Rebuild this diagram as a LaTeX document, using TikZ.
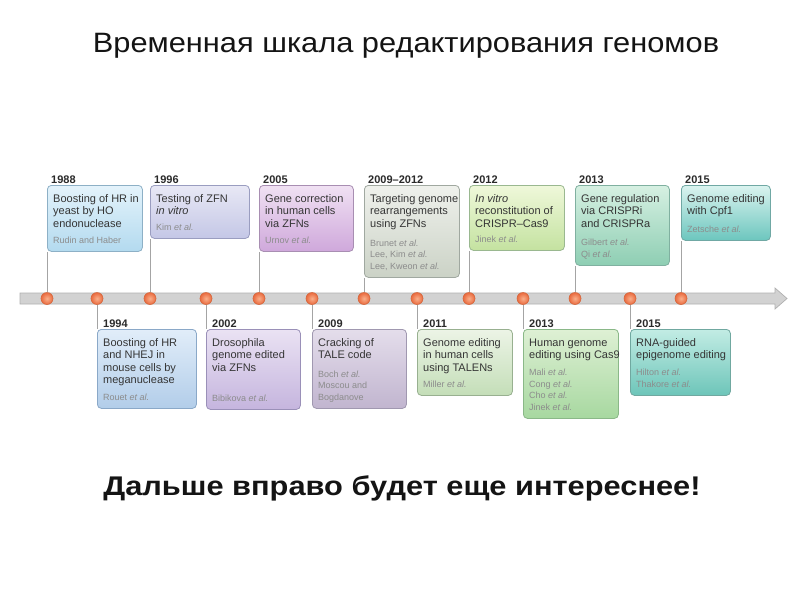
\documentclass[tikz,border=0pt]{standalone}
\usepackage{fontspec}
\setmainfont{Liberation Sans}
\definecolor{maintxt}{HTML}{353535}
\definecolor{authtxt}{HTML}{8C8C8C}
\definecolor{yeartxt}{HTML}{2A2A2A}
\definecolor{titletxt}{HTML}{141414}
\definecolor{linegray}{HTML}{A4A4A4}
\definecolor{barlight}{HTML}{F4F4F4}
\definecolor{bardark}{HTML}{D2D2D2}
\definecolor{barrim}{HTML}{B0B0B0}
\definecolor{dotin}{HTML}{F9B08C}
\definecolor{dotout}{HTML}{EA6A3E}
\definecolor{dotrim}{HTML}{D4683E}
% box colours: top / bottom / border
\newcommand\boxcolors[4]{%
  \definecolor{#1t}{HTML}{#2}\definecolor{#1b}{HTML}{#3}\definecolor{#1d}{HTML}{#4}}
\boxcolors{ca}{E4F3FB}{B3DAEF}{8DB0C6}
\boxcolors{cb}{E8E8F5}{C4C7E6}{9A9DC0}
\boxcolors{cc}{F0E1F3}{CFA8DB}{A88EB2}
\boxcolors{cd}{EFF1EC}{CBD2C6}{A0A8A0}
\boxcolors{ce}{EFF8DA}{C4E2A0}{9AB890}
\boxcolors{cf}{D6F0E2}{8ECEB3}{80B0A0}
\boxcolors{cg}{DAF3EF}{6CC6BE}{70A8A4}
\boxcolors{ch}{E1EDF9}{B2CDE9}{8AA8C8}
\boxcolors{ci}{EAE2F3}{C5B5DE}{9A90B8}
\boxcolors{cj}{E4DDEB}{C1B5CF}{A098B0}
\boxcolors{ck}{ECF4E6}{C4DEB8}{98B090}
\boxcolors{cl}{DEF0D4}{A7D8A0}{8AB888}
\boxcolors{cm}{C2ECE4}{6DC5B9}{70A8A0}
\newcommand\ea{\textit{et al.}}
\newcommand\topstrut{\rule{0pt}{17pt}}
\newcommand\botstrut{\rule[-8pt]{0pt}{8pt}}
\tikzset{
  evbox/.style={draw=#1d, top color=#1t, bottom color=#1b,
     rounded corners=4pt, anchor=north west, inner sep=0pt, line width=0.8pt},
  mtext/.style={anchor=north west, inner sep=0pt, align=left,
     font=\fontsize{11}{12.5}\selectfont, text=maintxt},
  atext/.style={anchor=south west, inner sep=0pt, align=left,
     font=\fontsize{9}{11.8}\selectfont, text=authtxt},
  yr/.style={anchor=base west, inner sep=0pt, font=\bfseries\fontsize{11}{12}\selectfont, text=yeartxt},
  dot/.style={circle, minimum size=12pt, inner sep=0pt, draw=dotrim, line width=0.6pt,
     inner color=dotin, outer color=dotout},
  conn/.style={draw=linegray, line width=0.9pt},
}
\begin{document}
\begin{tikzpicture}[x=1pt,y=-1pt]
\useasboundingbox (0,0) rectangle (800,600);
\fill[white] (0,0) rectangle (800,600);

% title and note
\node[anchor=base, inner sep=0pt, font=\fontsize{28}{34}\selectfont, text=titletxt, xscale=1.1] (title) at (406,52) {Временная шкала редактирования геномов};
\node[anchor=base, inner sep=0pt, font=\bfseries\fontsize{27}{32}\selectfont, text=titletxt, xscale=1.14] (note) at (402,495) {Дальше вправо будет еще интереснее!};

% timeline bar with arrow head
\shade[top color=bardark, middle color=barlight, bottom color=bardark, draw=barrim, line width=0.7pt]
  (20,293) -- (775,293) -- (775,288) -- (787,298.5) -- (775,309) -- (775,304) -- (20,304) -- cycle;

% dots
\foreach \n/\x in {d1/47,d2/97,d3/150,d4/206,d5/259,d6/312,d7/364,d8/417,d9/469,d10/523,d11/575,d12/630,d13/681}
  \node[dot] (\n) at (\x,298.5) {};

% ---------------- upper boxes ----------------
\node[evbox=ca, minimum width=95pt, minimum height=66pt] (b1988) at (47,185) {};
\node[yr] (y1988) at ([xshift=4pt,yshift=2pt]b1988.north west) {1988};
\node[mtext] (m1988) at ([xshift=6pt]b1988.north west) {\topstrut Boosting of HR in\\yeast by HO\\endonuclease};
\node[atext] (a1988) at ([xshift=6pt]b1988.south west) {Rudin and Haber\botstrut};

\node[evbox=cb, minimum width=99pt, minimum height=53pt] (b1996) at (150,185) {};
\node[yr] (y1996) at ([xshift=4pt,yshift=2pt]b1996.north west) {1996};
\node[mtext] (m1996) at ([xshift=6pt]b1996.north west) {\topstrut Testing of ZFN\\\textit{in vitro}};
\node[atext] (a1996) at ([xshift=6pt]b1996.south west) {Kim \ea\botstrut};

\node[evbox=cc, minimum width=94pt, minimum height=66pt] (b2005) at (259,185) {};
\node[yr] (y2005) at ([xshift=4pt,yshift=2pt]b2005.north west) {2005};
\node[mtext] (m2005) at ([xshift=6pt]b2005.north west) {\topstrut Gene correction\\in human cells\\via ZFNs};
\node[atext] (a2005) at ([xshift=6pt]b2005.south west) {Urnov \ea\botstrut};

\node[evbox=cd, minimum width=95pt, minimum height=92pt] (b2009u) at (364,185) {};
\node[yr] (y2009u) at ([xshift=4pt,yshift=2pt]b2009u.north west) {2009–2012};
\node[mtext] (m2009u) at ([xshift=6pt]b2009u.north west) {\topstrut Targeting genome\\rearrangements\\using ZFNs};
\node[atext] (a2009u) at ([xshift=6pt]b2009u.south west) {Brunet \ea\\Lee, Kim \ea\\Lee, Kweon \ea\botstrut};

\node[evbox=ce, minimum width=95pt, minimum height=65pt] (b2012) at (469,185) {};
\node[yr] (y2012) at ([xshift=4pt,yshift=2pt]b2012.north west) {2012};
\node[mtext] (m2012) at ([xshift=6pt]b2012.north west) {\topstrut\textit{In vitro}\\reconstitution of\\CRISPR–Cas9};
\node[atext] (a2012) at ([xshift=6pt]b2012.south west) {Jinek \ea\botstrut};

\node[evbox=cf, minimum width=94pt, minimum height=80pt] (b2013u) at (575,185) {};
\node[yr] (y2013u) at ([xshift=4pt,yshift=2pt]b2013u.north west) {2013};
\node[mtext] (m2013u) at ([xshift=6pt]b2013u.north west) {\topstrut Gene regulation\\via CRISPRi\\and CRISPRa};
\node[atext] (a2013u) at ([xshift=6pt]b2013u.south west) {Gilbert \ea\\Qi \ea\botstrut};

\node[evbox=cg, minimum width=89pt, minimum height=55pt] (b2015u) at (681,185) {};
\node[yr] (y2015u) at ([xshift=4pt,yshift=2pt]b2015u.north west) {2015};
\node[mtext] (m2015u) at ([xshift=6pt]b2015u.north west) {\topstrut Genome editing\\with Cpf1};
\node[atext] (a2015u) at ([xshift=6pt]b2015u.south west) {Zetsche \ea\botstrut};

% ---------------- lower boxes ----------------
\node[evbox=ch, minimum width=99pt, minimum height=79pt] (b1994) at (97,329) {};
\node[yr] (y1994) at ([xshift=6pt,yshift=2pt]b1994.north west) {1994};
\node[mtext] (m1994) at ([xshift=6pt]b1994.north west) {\topstrut Boosting of HR\\and NHEJ in\\mouse cells by\\meganuclease};
\node[atext] (a1994) at ([xshift=6pt]b1994.south west) {Rouet \ea\botstrut};

\node[evbox=ci, minimum width=94pt, minimum height=80pt] (b2002) at (206,329) {};
\node[yr] (y2002) at ([xshift=6pt,yshift=2pt]b2002.north west) {2002};
\node[mtext] (m2002) at ([xshift=6pt]b2002.north west) {\topstrut Drosophila\\genome edited\\via ZFNs};
\node[atext] (a2002) at ([xshift=6pt]b2002.south west) {Bibikova \ea\botstrut};

\node[evbox=cj, minimum width=94pt, minimum height=79pt] (b2009l) at (312,329) {};
\node[yr] (y2009l) at ([xshift=6pt,yshift=2pt]b2009l.north west) {2009};
\node[mtext] (m2009l) at ([xshift=6pt]b2009l.north west) {\topstrut Cracking of\\TALE code};
\node[atext] (a2009l) at ([xshift=6pt]b2009l.south west) {Boch \ea\\Moscou and\\Bogdanove\botstrut};

\node[evbox=ck, minimum width=95pt, minimum height=66pt] (b2011) at (417,329) {};
\node[yr] (y2011) at ([xshift=6pt,yshift=2pt]b2011.north west) {2011};
\node[mtext] (m2011) at ([xshift=6pt]b2011.north west) {\topstrut Genome editing\\in human cells\\using TALENs};
\node[atext] (a2011) at ([xshift=6pt]b2011.south west) {Miller \ea\botstrut};

\node[evbox=cl, minimum width=95pt, minimum height=89pt] (b2013l) at (523,329) {};
\node[yr] (y2013l) at ([xshift=6pt,yshift=2pt]b2013l.north west) {2013};
\node[mtext] (m2013l) at ([xshift=6pt]b2013l.north west) {\topstrut Human genome\\editing using Cas9};
\node[atext] (a2013l) at ([xshift=6pt]b2013l.south west) {Mali \ea\\Cong \ea\\Cho \ea\\Jinek \ea\botstrut};

\node[evbox=cm, minimum width=100pt, minimum height=66pt] (b2015l) at (630,329) {};
\node[yr] (y2015l) at ([xshift=6pt,yshift=2pt]b2015l.north west) {2015};
\node[mtext] (m2015l) at ([xshift=6pt]b2015l.north west) {\topstrut RNA-guided\\epigenome editing};
\node[atext] (a2015l) at ([xshift=6pt]b2015l.south west) {Hilton \ea\\Thakore \ea\botstrut};

% ---------------- connectors ----------------
\draw[conn] (d1.north) -- (b1988.south west);
\draw[conn] (d3.north) -- (b1996.south west);
\draw[conn] (d5.north) -- (b2005.south west);
\draw[conn] (d7.north) -- (b2009u.south west);
\draw[conn] (d9.north) -- (b2012.south west);
\draw[conn] (d11.north) -- (b2013u.south west);
\draw[conn] (d13.north) -- (b2015u.south west);
\draw[conn] (d2.south) -- (b1994.north west);
\draw[conn] (d4.south) -- (b2002.north west);
\draw[conn] (d6.south) -- (b2009l.north west);
\draw[conn] (d8.south) -- (b2011.north west);
\draw[conn] (d10.south) -- (b2013l.north west);
\draw[conn] (d12.south) -- (b2015l.north west);
\end{tikzpicture}
\end{document}
